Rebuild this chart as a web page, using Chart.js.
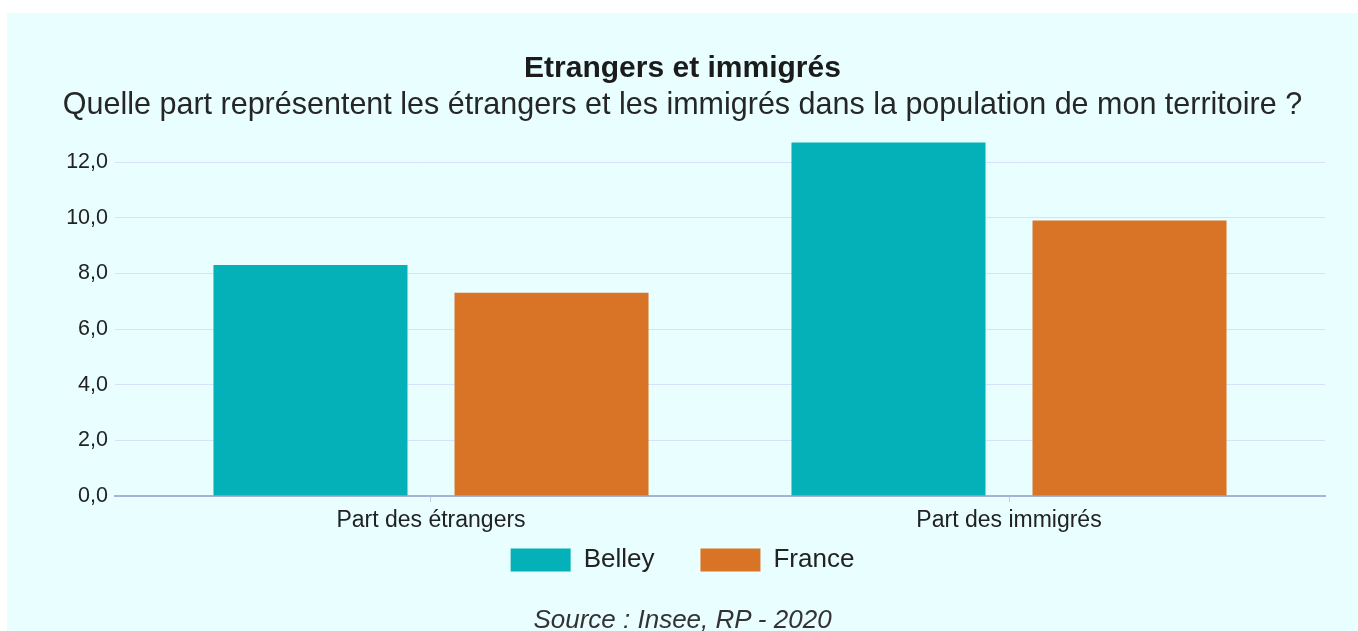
<!DOCTYPE html>
<html lang="fr">
<head>
<meta charset="utf-8">
<title>Etrangers et immigrés</title>
<script src="https://cdn.jsdelivr.net/npm/chart.js@4.4.0/dist/chart.umd.min.js"></script>
<style>
  html, body { margin: 0; padding: 0; background: #ffffff; }
  #panel { position: absolute; left: 7px; top: 13px; width: 1351px; height: 618px; background: #e8feff; overflow: hidden; }
  #chart-box { position: absolute; left: 0; top: 0; width: 1351px; height: 618px; }
  #source { position: absolute; left: 0; top: 593px; width: 1351px; text-align: center; font: italic 26px "Liberation Sans", Arial, sans-serif; line-height: 26px; color: #333; }
</style>
</head>
<body>
<div id="panel">
  <div id="chart-box"><canvas id="chart"></canvas></div>
  <div id="source">Source : Insee, RP - 2020</div>
</div>
<script>
"use strict";

const CATEGORIES = ["Part des étrangers", "Part des immigrés"];
const SERIES = ["Belley", "France"];
const BELLEY = [8.3, 12.7];
const FRANCE = [7.3, 9.9];
const Y_TICKS = [0, 2, 4, 6, 8, 10, 12];

const TITLE = "Etrangers et immigrés";
const SUBTITLE = "Quelle part représentent les étrangers et les immigrés dans la population de mon territoire ?";

const COLORS = {
  belley: "#04b1b8",
  france: "#d97426",
  grid: "#d8e1fb",
  axis: "#a7b2d8",
  tick: "#c3cce8",
  text: "#222222",
};

Chart.defaults.font.family = "'Liberation Sans', Arial, sans-serif";

// bars sit on a linear x axis so the plot can be wider than the two groups
function toPoints(values) {
  return values.map((v, i) => ({ x: i, y: v }));
}

function barDataset(label, values, color) {
  return {
    label,
    data: toPoints(values),
    backgroundColor: color,
    borderWidth: 0,
    categoryPercentage: 0.834,
    barPercentage: 0.805,
  };
}

new Chart(document.getElementById("chart"), {
  type: "bar",
  data: {
    datasets: [
      barDataset(SERIES[0], BELLEY, COLORS.belley),
      barDataset(SERIES[1], FRANCE, COLORS.france),
    ],
  },
  options: {
    responsive: true,
    maintainAspectRatio: false,
    animation: false,
    layout: { padding: { left: 0, right: 0, top: 0, bottom: 48 } },
    plugins: {
      title: {
        display: true,
        text: TITLE,
        color: "#1b1b1b",
        font: { size: 30, weight: "bold" },
        padding: { top: 38, bottom: 0 },
      },
      subtitle: {
        display: true,
        text: SUBTITLE,
        color: "#262626",
        font: { size: 30.5 },
        padding: { top: 0, bottom: 10.6 },
      },
      legend: {
        position: "bottom",
        labels: { boxWidth: 60, boxHeight: 23, padding: 46, color: COLORS.text, font: { size: 26 } },
      },
      tooltip: { enabled: false },
    },
    scales: {
      x: {
        type: "linear",
        min: -0.5467,
        max: 1.5467,
        bounds: "data",
        offset: false,
        grid: { offset: false, drawOnChartArea: false, drawTicks: true, tickLength: 6, color: COLORS.tick },
        border: { display: true, color: COLORS.axis, width: 2 },
        // mirrored labels are not clipped to the (thin) axis box, so the legend can sit close
        ticks: {
          mirror: true,
          padding: -38.5,
          autoSkip: false,
          maxRotation: 0,
          color: COLORS.text,
          font: { size: 23 },
          callback: v => CATEGORIES[v] ?? "",
        },
        afterBuildTicks: scale => { scale.ticks = CATEGORIES.map((_, i) => ({ value: i })); },
        afterFit: scale => { scale.height = 5; },
      },
      y: {
        min: 0,
        max: 13,
        bounds: "data",
        grid: { color: COLORS.grid, drawTicks: false },
        border: { display: false },
        ticks: {
          padding: 7,
          color: COLORS.text,
          font: { size: 21.5 },
          callback: v => v.toFixed(1).replace(".", ","),
        },
        afterBuildTicks: scale => { scale.ticks = Y_TICKS.map(v => ({ value: v })); },
        afterFit: scale => { scale.width = 108; },
      },
      // empty right-hand margin, keeps title and legend centred on the panel
      margin: {
        type: "linear",
        position: "right",
        grid: { display: false },
        border: { display: false },
        ticks: { display: false },
        afterFit: scale => { scale.width = 33; },
      },
    },
  },
});
</script>
</body>
</html>
